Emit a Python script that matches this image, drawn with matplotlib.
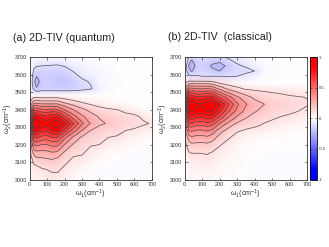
"""2D-TIV spectra, quantum vs. classical"""
from matplotlib import pyplot as plt
from matplotlib.colors import LinearSegmentedColormap

w1 = [0, 10, 25, 40, 70, 100, 130, 160, 200, 250, 300, 350, 400, 450, 500, 550, 600, 650, 700]

w2_quantum = [3000, 3040, 3080, 3120, 3160, 3200, 3240, 3280, 3320, 3360, 3400, 3440, 3480, 3520, 3560, 3600, 3640, 3680, 3700]
tiv_quantum = [
    [0, .02, .04, .05, .06, .07, .08, .07, .05, .02, 0, -.01, -.015, -.015, -.015, -.015, -.015, -.015, -.015],
    [0, .03, .05, .06, .07, .08, .10, .10, .07, .04, .02, .01, -.01, -.015, -.015, -.015, -.015, -.015, -.015],
    [0, .05, .09, .10, .12, .13, .14, .13, .10, .06, .04, .02, .01, 0, -.01, -.015, -.015, -.015, -.015],
    [.01, .08, .15, .18, .19, .20, .21, .19, .14, .09, .08, .04, .02, .01, 0, -.01, -.01, -.01, -.01],
    [.02, .15, .26, .29, .28, .29, .31, .30, .20, .13, .12, .07, .05, .03, .02, .01, 0, -.01, -.01],
    [.03, .22, .40, .43, .40, .40, .43, .43, .30, .19, .14, .11, .10, .06, .04, .03, .02, .01, 0],
    [.04, .32, .58, .62, .56, .55, .60, .60, .43, .28, .18, .14, .12, .10, .09, .06, .04, .03, .02],
    [.05, .45, .82, .85, .74, .72, .80, .83, .65, .45, .30, .20, .15, .13, .13, .10, .09, .06, .05],
    [.06, .55, .96, 1.0, .88, .85, .95, 1.0, .85, .62, .42, .29, .22, .19, .16, .14, .125, .115, .09],
    [.05, .48, .85, .85, .75, .73, .78, .78, .62, .44, .32, .24, .19, .16, .14, .13, .12, .08, .05],
    [.04, .32, .55, .56, .51, .50, .52, .50, .40, .30, .22, .17, .13, .11, .10, .07, .05, .02, .01],
    [.02, .15, .27, .27, .25, .25, .25, .25, .19, .14, .10, .07, .05, .03, .02, .01, 0, 0, 0],
    [0, .02, .03, .03, .03, .03, .03, .03, .02, .01, 0, 0, 0, 0, 0, 0, 0, 0, 0],
    [0, -.04, -.13, -.19, -.16, -.16, -.16, -.16, -.16, -.15, -.13, -.11, -.04, -.01, 0, 0, 0, 0, 0],
    [0, -.06, -.18, -.25, -.16, -.16, -.17, -.18, -.19, -.17, -.12, -.09, -.03, -.02, -.01, 0, 0, 0, 0],
    [0, -.05, -.14, -.18, -.16, -.16, -.17, -.17, -.16, -.12, -.07, -.04, -.03, -.02, 0, 0, 0, 0, 0],
    [0, -.04, -.09, -.11, -.115, -.12, -.125, -.13, -.11, -.07, -.04, -.03, -.02, -.01, 0, 0, 0, 0, 0],
    [0, -.02, -.03, -.04, -.05, -.05, -.05, -.05, -.04, -.03, -.02, -.01, 0, 0, 0, 0, 0, 0, 0],
    [0, -.01, -.02, -.02, -.03, -.03, -.03, -.03, -.02, -.02, -.01, 0, 0, 0, 0, 0, 0, 0, 0],
]

w2_classical = [3000, 3070, 3110, 3150, 3190, 3230, 3270, 3310, 3350, 3390, 3430, 3470, 3510, 3550, 3590, 3620, 3650, 3680, 3700]
tiv_classical = [
    [0, .01, .02, .02, .02, .02, .02, .02, .01, .01, 0, -.01, -.015, -.015, -.015, -.015, -.015, -.015, -.015],
    [0, .02, .04, .04, .05, .05, .05, .04, .03, .02, .01, 0, -.01, -.015, -.015, -.015, -.015, -.015, -.015],
    [0, .03, .06, .07, .07, .07, .08, .07, .05, .03, .02, .01, 0, -.01, -.015, -.015, -.015, -.015, -.015],
    [.01, .05, .09, .10, .10, .10, .105, .09, .07, .04, .02, .01, 0, 0, -.01, -.01, -.01, -.01, -.01],
    [.02, .09, .14, .16, .16, .15, .16, .14, .10, .06, .03, .02, .01, .01, 0, 0, 0, 0, 0],
    [.03, .15, .22, .25, .24, .24, .25, .22, .15, .10, .05, .03, .02, .01, .01, .01, 0, 0, 0],
    [.04, .22, .36, .38, .35, .35, .37, .33, .22, .14, .10, .07, .05, .04, .03, .02, .01, .01, 0],
    [.05, .32, .52, .55, .50, .50, .53, .50, .36, .24, .16, .14, .12, .09, .07, .05, .04, .03, .02],
    [.06, .45, .72, .74, .68, .68, .72, .70, .55, .38, .27, .20, .15, .13, .11, .09, .08, .06, .04],
    [.07, .52, .90, .92, .85, .85, .90, .90, .73, .52, .37, .27, .21, .17, .14, .13, .115, .10, .085],
    [.07, .55, .98, 1.0, .92, .92, .98, 1.0, .82, .62, .42, .31, .24, .205, .17, .15, .13, .12, .105],
    [.06, .45, .78, .78, .72, .72, .75, .74, .60, .45, .32, .24, .18, .15, .13, .12, .11, .105, .098],
    [.05, .30, .50, .50, .46, .46, .47, .45, .33, .22, .16, .11, .10, .09, .085, .08, .07, .06, .05],
    [.02, .12, .18, .18, .18, .18, .18, .16, .10, .06, .03, .02, .01, 0, 0, 0, 0, 0, 0],
    [0, -.04, -.08, -.09, -.09, -.10, -.10, -.10, -.10, -.105, -.10, -.07, -.04, -.02, -.01, 0, 0, 0, 0],
    [0, -.08, -.17, -.21, -.15, -.14, -.15, -.17, -.20, -.15, -.13, -.125, -.10, -.03, -.01, 0, 0, 0, 0],
    [0, -.09, -.21, -.26, -.17, -.16, -.17, -.22, -.25, -.17, -.11, -.09, -.04, -.02, -.01, 0, 0, 0, 0],
    [0, -.05, -.14, -.21, -.14, -.13, -.14, -.15, -.17, -.11, -.085, -.05, -.03, -.01, 0, 0, 0, 0, 0],
    [0, -.03, -.11, -.14, -.13, -.13, -.13, -.13, -.12, -.09, -.06, -.04, -.02, -.01, 0, 0, 0, 0, 0],
]

levels = [-.2, -.1, .1, .2, .3, .4, .5, .6, .7, .8, .9]
w1_ticks = [0, 100, 200, 300, 400, 500, 600, 700]
w2_ticks = [3000, 3100, 3200, 3300, 3400, 3500, 3600, 3700]
cbar_ticks = [-1, -.5, 0, .5, 1]
cbar_labels = ["-1", "-0.5", "0", "0.5", "1"]

W, H = 329, 247

if __name__ == "__main__":
    plt.rcParams["font.family"] = ["Liberation Sans", "DejaVu Sans"]
    plt.rcParams["mathtext.default"] = "regular"

    cmap = LinearSegmentedColormap.from_list(
        "bwr2",
        [(0, "#0000ff"), (.08, "#0000ff"), (.5, "#ffffff"), (.92, "#ff0000"), (1, "#ff0000")],
    )
    fig = plt.figure(figsize=(W / 100, H / 100), dpi=100)

    panels = [
        (29.5, w2_quantum, tiv_quantum, "(a) 2D-TIV (quantum)", 13, 41),
        (184.5, w2_classical, tiv_classical, "(b) 2D-TIV  (classical)", 168, 40),
    ]
    for left, w2, tiv, title, title_x, title_y in panels:
        ax = fig.add_axes([left / W, 1 - 179.5 / H, 122.5 / W, 122.5 / H])
        mesh = ax.pcolormesh(w1, w2, tiv, cmap=cmap, vmin=-1, vmax=1, shading="gouraud")
        ax.contour(w1, w2, tiv, levels=levels, colors="#4a4040", linewidths=0.55,
                   linestyles="solid", alpha=0.85)
        ax.set_xlim(0, 700)
        ax.set_ylim(3000, 3700)
        ax.set_xticks(w1_ticks)
        ax.set_yticks(w2_ticks)
        ax.tick_params(direction="in", top=True, right=True, labelsize=3.9,
                       length=1.8, width=0.45, pad=1.5, colors="#333333")
        for spine in ax.spines.values():
            spine.set_linewidth(0.6)
            spine.set_color("#333333")
        ax.set_xlabel(r"$\omega_1$(cm$^{-1}$)", fontsize=5.2, labelpad=0.5, color="#333333")
        ax.set_ylabel(r"$\omega_2$(cm$^{-1}$)", fontsize=5.2, labelpad=0, color="#333333")
        fig.text(title_x / W, 1 - title_y / H, title, fontsize=7.7, color="#222222", va="baseline")

    cax = fig.add_axes([310 / W, 1 - 179.5 / H, 7 / W, 122.5 / H])
    cbar = fig.colorbar(mesh, cax=cax, ticks=cbar_ticks)
    cbar.ax.set_yticklabels(cbar_labels)
    cbar.ax.tick_params(labelsize=3, length=1.2, width=0.4, pad=1.5, colors="#333333",
                        direction="in", left=True)
    cbar.outline.set_linewidth(0.6)

    fig.savefig("out.png", dpi=100)
